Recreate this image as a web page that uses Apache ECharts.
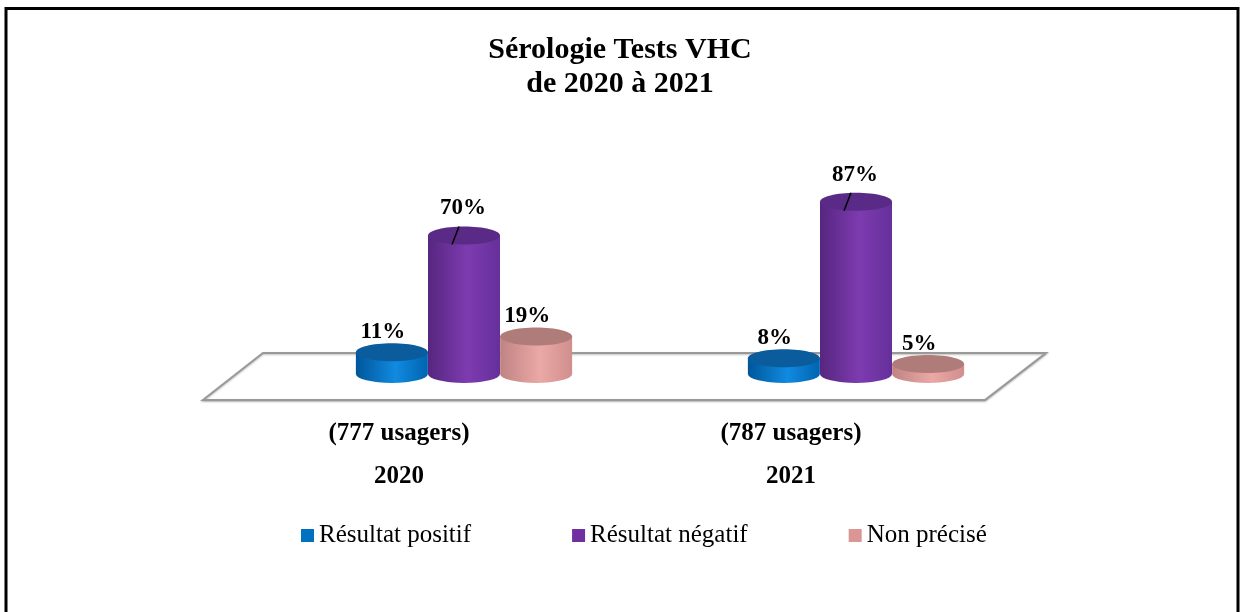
<!DOCTYPE html>
<html>
<head>
<meta charset="utf-8">
<script src="https://cdn.jsdelivr.net/npm/echarts@6/dist/echarts.min.js"></script>
<style>
  html, body { margin: 0; padding: 0; background: #fff; }
  #chart { width: 1240px; height: 612px; }
</style>
</head>
<body>
<div id="chart"></div>
<script>
// données
const years = ['2020', '2021'];
const usagers = ['777', '787'];
const positif = [11, 8];
const negatif = [70, 87];
const nonPrecise = [19, 5];

const serif = '"Liberation Serif", "Times New Roman", serif';

// couleurs : [sombre, clair, bord droit, dessus, légende]
const palettes = [
  ['#00569a', '#118ae0', '#0064b0', '#0a5c9c', '#0070C0'],
  ['#56267f', '#7d3bb0', '#65309a', '#5a2b86', '#7030A0'],
  ['#bf8482', '#eaa8a6', '#d08f8d', '#b07c7a', '#D99694']
];

function cylinder(name, values, idx) {
  const pal = palettes[idx];
  return {
    name: name,
    type: 'custom',
    itemStyle: { color: pal[4] },
    data: values.map((v, i) => [i, v]),
    encode: { x: 0, y: 1 },
    z: 3,
    renderItem: function (params, api) {
      const base = api.coord([api.value(0), 0]);
      const top = api.coord([api.value(0), api.value(1)]);
      const band = api.size([1, 0])[0];
      const cx = base[0] + (idx - 1) * band * 0.184;
      const rx = 36, ry = 9;
      const yb = base[1], yt = top[1];
      const grad = new echarts.graphic.LinearGradient(0, 0, 1, 0, [
        { offset: 0, color: pal[0] },
        { offset: 0.55, color: pal[1] },
        { offset: 1, color: pal[2] }
      ]);
      const body = 'M' + (cx - rx) + ' ' + yt +
        ' L' + (cx - rx) + ' ' + yb +
        ' A' + rx + ' ' + ry + ' 0 0 0 ' + (cx + rx) + ' ' + yb +
        ' L' + (cx + rx) + ' ' + yt + ' Z';
      const children = [
        { type: 'path', shape: { pathData: body }, style: { fill: grad } },
        { type: 'ellipse', shape: { cx: cx, cy: yt, rx: rx, ry: ry }, style: { fill: pal[3] } }
      ];
      const label = api.value(1) + '%';
      if (idx === 1) {
        children.push({
          type: 'line',
          shape: { x1: cx - 12, y1: yt + 9, x2: cx - 5, y2: yt - 9 },
          style: { stroke: '#000', lineWidth: 1.5 }
        });
        children.push({
          type: 'text',
          style: { text: label, x: cx - 1, y: yt - 27, align: 'center', verticalAlign: 'middle',
            font: 'bold 23px ' + serif, fill: '#000' }
        });
      } else {
        children.push({
          type: 'text',
          style: { text: label, x: cx - 9, y: yt - 20, align: 'center', verticalAlign: 'middle',
            font: 'bold 23px ' + serif, fill: '#000' }
        });
      }
      return { type: 'group', children: children };
    }
  };
}

// plancher 3D en perspective
const floorSeries = {
  type: 'custom',
  silent: true,
  z: 1,
  data: [[0, 0]],
  encode: { x: 0, y: 1 },
  renderItem: function (params, api) {
    const cs = params.coordSys;
    const y0 = api.coord([0, 0])[1];
    const xl = cs.x - 5, xr = cs.x + cs.width - 6;
    return {
      type: 'polygon',
      shape: { points: [[xl, y0 - 21], [xr, y0 - 21], [xr - 61, y0 + 26], [xl - 60, y0 + 26]] },
      style: { fill: '#fff', stroke: '#999', lineWidth: 2,
        shadowColor: 'rgba(0,0,0,0.25)', shadowBlur: 2, shadowOffsetY: 1 }
    };
  }
};

const chart = echarts.init(document.getElementById('chart'));

chart.setOption({
  animation: false,
  title: {
    text: 'Sérologie Tests VHC\nde 2020 à 2021',
    left: 'center',
    top: 28,
    textStyle: { fontFamily: serif, fontWeight: 'bold', fontSize: 30, lineHeight: 34, color: '#000' }
  },
  graphic: [{
    type: 'rect',
    shape: { x: 6, y: 8.5, width: 1232, height: 640 },
    style: { fill: 'none', stroke: '#000', lineWidth: 3 },
    silent: true
  }],
  legend: {
    left: 296,
    top: 518,
    icon: 'rect',
    itemWidth: 13,
    itemHeight: 13,
    itemGap: 101,
    textStyle: { fontFamily: serif, fontSize: 25, color: '#000' },
    data: ['Résultat positif', 'Résultat négatif', 'Non précisé']
  },
  grid: { left: 268, right: 188, top: 176, bottom: 238 },
  xAxis: {
    type: 'category',
    data: years,
    axisLine: { show: false },
    axisTick: { show: false },
    axisLabel: {
      margin: 38,
      padding: [0, 130, 0, 0],
      formatter: (v, i) => '{a|(' + usagers[i] + ' usagers)}\n{a|' + v + '}',
      rich: { a: { fontFamily: serif, fontWeight: 'bold', fontSize: 25, lineHeight: 43, color: '#000' } }
    }
  },
  yAxis: { type: 'value', min: 0, max: 100, show: false, splitLine: { show: false } },
  series: [
    floorSeries,
    cylinder('Résultat positif', positif, 0),
    cylinder('Résultat négatif', negatif, 1),
    cylinder('Non précisé', nonPrecise, 2)
  ]
});
</script>
</body>
</html>
